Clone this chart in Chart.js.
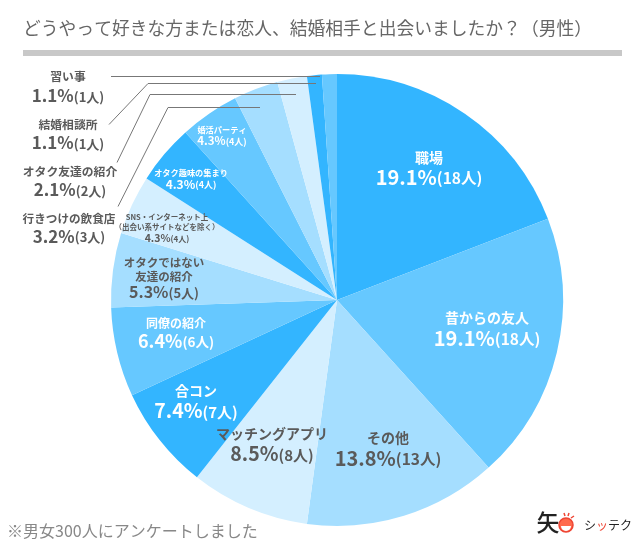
<!DOCTYPE html>
<html lang="ja">
<head>
<meta charset="utf-8">
<title>どうやって好きな方または恋人、結婚相手と出会いましたか？（男性）</title>
<script src="https://cdn.jsdelivr.net/npm/chart.js@4/dist/chart.umd.min.js"></script>
<style>
  html, body { margin: 0; padding: 0; background: #fff; }
  canvas { display: block; }
</style>
</head>
<body>
<canvas id="pieChart" width="640" height="551"></canvas>
<script>
// Chart data
const categories = ['職場', '昔からの友人', 'その他', 'マッチングアプリ', '合コン', '同僚の紹介', 'オタクではない友達の紹介', 'SNS・インターネット上（出会い系サイトなどを除く）', 'オタク趣味の集まり', '婚活パーティ', '行きつけの飲食店', 'オタク友達の紹介', '結婚相談所', '習い事'];
const people = [18, 18, 13, 8, 7, 6, 5, 4, 4, 4, 3, 2, 1, 1];
const percents = ['19.1%', '19.1%', '13.8%', '8.5%', '7.4%', '6.4%', '5.3%', '4.3%', '4.3%', '4.3%', '3.2%', '2.1%', '1.1%', '1.1%'];
const sliceColors = ['#33b5ff', '#66c8ff', '#a5deff', '#d4efff'];

const titleText = 'どうやって好きな方または恋人、結婚相手と出会いましたか？（男性）';
const noteText = '※男女300人にアンケートしました';
const logoKana = ['シ', 'ッ', 'テ', 'ク'];

const FONT = '"Noto Sans CJK JP", "Noto Sans", sans-serif';
const WHITE = '#ffffff';
const DARK = '#5a5a5a';

// Where each slice's label sits: [index, x, y, name size, line gap, pct size, people size, row gap, colour, name lines]
const labelLayout = [
  [0, 429, 158, 14, 0, 20, 15.5, 19, WHITE, ['職場']],
  [1, 487, 318, 14, 0, 20, 15.5, 20, WHITE, ['昔からの友人']],
  [2, 388, 438, 14, 0, 20, 15.5, 20, DARK, ['その他']],
  [3, 272, 434, 14, 0, 19.5, 15, 20, DARK, ['マッチングアプリ']],
  [4, 196, 391, 14, 0, 19.5, 15, 20, WHITE, ['合コン']],
  [5, 176, 323, 12, 0, 18, 13.5, 18, WHITE, ['同僚の紹介']],
  [6, 164, 263, 11.5, 14, 16, 13, 15, DARK, ['オタクではない', '友達の紹介']],
  [7, 167, 217, 7.5, 10, 10.5, 8, 11, DARK, ['SNS・インターネット上', '（出会い系サイトなどを除く）']],
  [8, 191, 173, 8.2, 0, 12, 9, 11, WHITE, ['オタク趣味の集まり']],
  [9, 222, 130, 8.2, 0, 11.5, 9, 11, WHITE, ['婚活パーティ']],
  [10, 69, 219, 11.6, 0, 17, 13, 17.5, DARK, ['行きつけの飲食店']],
  [11, 70, 172, 11.8, 0, 17, 13, 18, DARK, ['オタク友達の紹介']],
  [12, 68, 125, 11.8, 0, 17, 13, 18, DARK, ['結婚相談所']],
  [13, 68, 77, 11.8, 0, 17, 13, 19, DARK, ['習い事']]
];

// Leader lines for the small slices outside the pie
const leaderLines = [
  [[111, 76], [320, 76]],
  [[109, 124], [148, 83], [316, 83]],
  [[117, 162], [150, 94], [296, 94]],
  [[118, 206], [168, 107], [260, 107]]
];

function drawSliceLabel(ctx, item) {
  const [i, x, y, nameSize, lineGap, pctSize, peopleSize, rowGap, color, lines] = item;
  ctx.fillStyle = color;
  ctx.textBaseline = 'middle';
  ctx.textAlign = 'center';

  ctx.font = `bold ${nameSize}px ${FONT}`;
  lines.forEach((line, n) => {
    ctx.fillText(line, x, y + n * lineGap);
  });

  // Percent and head count share one centred line
  const rowY = y + (lines.length - 1) * lineGap + rowGap;
  const countText = `(${people[i]}人)`;
  ctx.textAlign = 'left';
  ctx.font = `bold ${pctSize}px ${FONT}`;
  const pctWidth = ctx.measureText(percents[i]).width;
  ctx.font = `bold ${peopleSize}px ${FONT}`;
  const countWidth = ctx.measureText(countText).width;
  const startX = x - (pctWidth + countWidth) / 2;
  ctx.font = `bold ${pctSize}px ${FONT}`;
  ctx.fillText(percents[i], startX, rowY);
  ctx.font = `bold ${peopleSize}px ${FONT}`;
  ctx.fillText(countText, startX + pctWidth, rowY + 1);
}

function drawLogo(ctx) {
  ctx.fillStyle = '#222222';
  ctx.textAlign = 'center';
  ctx.textBaseline = 'middle';
  ctx.font = `500 23px ${FONT}`;
  ctx.fillText('矢', 548, 522);

  ctx.font = `12px ${FONT}`;
  logoKana.forEach((kana, n) => {
    ctx.fillStyle = n === 1 ? '#ee4433' : '#222222';
    ctx.fillText(kana, 590 + n * 12, 525);
  });

  // Face mark
  ctx.strokeStyle = '#ee4433';
  ctx.lineWidth = 1.5;
  ctx.fillStyle = '#ff6a4d';
  ctx.beginPath();
  ctx.arc(566, 525, 7, 0, Math.PI * 2);
  ctx.fill();
  ctx.stroke();
  ctx.fillStyle = '#ffffff';
  ctx.beginPath();
  ctx.arc(566, 526, 5, 0, Math.PI);
  ctx.fill();
  ctx.beginPath();
  [[564, 513, 565, 516], [569, 513, 568, 516], [574, 516, 571, 518]].forEach(([x1, y1, x2, y2]) => {
    ctx.moveTo(x1, y1);
    ctx.lineTo(x2, y2);
  });
  ctx.stroke();
}

const annotationPlugin = {
  id: 'annotations',
  afterDraw(chart) {
    const ctx = chart.ctx;
    ctx.save();

    // Title and rule
    ctx.fillStyle = '#666666';
    ctx.textAlign = 'left';
    ctx.textBaseline = 'middle';
    ctx.font = `17.8px ${FONT}`;
    ctx.fillText(titleText, 23, 28);
    ctx.fillStyle = '#c8c8c8';
    ctx.fillRect(23, 50, 599, 6);

    // Leader lines
    ctx.strokeStyle = '#777777';
    ctx.lineWidth = 1;
    leaderLines.forEach(points => {
      ctx.beginPath();
      points.forEach(([x, y], n) => {
        if (n === 0) ctx.moveTo(x, y + 0.5);
        else ctx.lineTo(x, y + 0.5);
      });
      ctx.stroke();
    });

    labelLayout.forEach(item => drawSliceLabel(ctx, item));

    // Footnote
    ctx.fillStyle = '#888888';
    ctx.textAlign = 'left';
    ctx.textBaseline = 'middle';
    ctx.font = `16px ${FONT}`;
    ctx.fillText(noteText, 7, 531);

    drawLogo(ctx);
    ctx.restore();
  }
};

new Chart(document.getElementById('pieChart').getContext('2d'), {
  type: 'pie',
  data: {
    labels: categories,
    datasets: [{
      data: people,
      backgroundColor: categories.map((c, i) => sliceColors[i % sliceColors.length]),
      borderWidth: 0
    }]
  },
  options: {
    responsive: false,
    animation: false,
    devicePixelRatio: 1,
    layout: { padding: { left: 111, right: 77, top: 74, bottom: 25 } },
    plugins: {
      legend: { display: false },
      tooltip: { enabled: false }
    }
  },
  plugins: [annotationPlugin]
});
</script>
</body>
</html>
